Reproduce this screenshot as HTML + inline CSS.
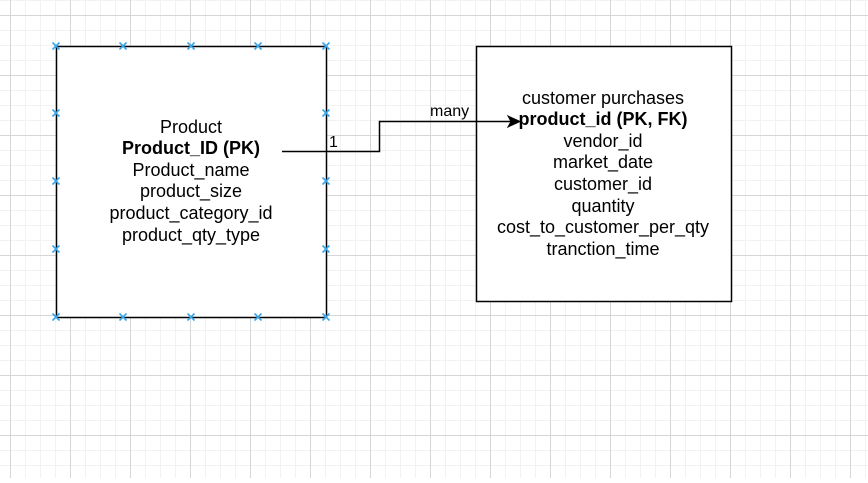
<!DOCTYPE html>
<html><head><meta charset="utf-8"><style>
html,body{margin:0;padding:0;background:#fff;}
svg text{font-family:"Liberation Sans",Arial,sans-serif;font-size:18px;fill:#000;}
</style></head><body>
<svg width="868" height="478" xmlns="http://www.w3.org/2000/svg">
<defs>
<pattern id="minor" x="10" y="0" width="15" height="15" patternUnits="userSpaceOnUse">
<path d="M0 0.5H15M0.5 0V15" stroke="#f2f2f2" stroke-width="1" fill="none"/>
</pattern>
<pattern id="major" x="10" y="15" width="60" height="60" patternUnits="userSpaceOnUse">
<path d="M0 0.5H60M0.5 0V60" stroke="#d6d6d6" stroke-width="1" fill="none"/>
</pattern>
</defs>
<rect width="868" height="478" fill="url(#minor)"/>
<rect width="868" height="478" fill="url(#major)"/>

<rect x="56.5" y="46.5" width="270" height="271" fill="#fff" stroke="#000" stroke-width="1.5"/>
<rect x="476.5" y="46.5" width="255" height="255" fill="#fff" stroke="#000" stroke-width="1.5"/>

<g text-anchor="middle" dominant-baseline="central">
<text x="191" y="127">Product</text>
<text x="191" y="148" font-weight="bold">Product_ID (PK)</text>
<text x="191" y="170">Product_name</text>
<text x="191" y="191">product_size</text>
<text x="191" y="213">product_category_id</text>
<text x="191" y="235">product_qty_type</text>

<text x="603" y="98">customer purchases</text>
<text x="603" y="119" font-weight="bold">product_id (PK, FK)</text>
<text x="603" y="141">vendor_id</text>
<text x="603" y="162">market_date</text>
<text x="603" y="184">customer_id</text>
<text x="603" y="206">quantity</text>
<text x="603" y="227">cost_to_customer_per_qty</text>
<text x="603" y="249">tranction_time</text>
</g>

<path d="M282 151.5H379.5V121.5H512" fill="none" stroke="#000" stroke-width="1.5"/>
<path d="M520 121.5L508 116L511 121.5L508 127Z" fill="#000" stroke="#000"/>
<text x="430" y="116" style="font-size:16px">many</text>
<text x="329" y="147" style="font-size:16px">1</text>

<g stroke="#3aa6e8" stroke-width="1.6">
<path d="M-3.5 -3.5L3.5 3.5M-3.5 3.5L3.5 -3.5" transform="translate(56,46)"/>
<path d="M-3.5 -3.5L3.5 3.5M-3.5 3.5L3.5 -3.5" transform="translate(123,46)"/>
<path d="M-3.5 -3.5L3.5 3.5M-3.5 3.5L3.5 -3.5" transform="translate(191,46)"/>
<path d="M-3.5 -3.5L3.5 3.5M-3.5 3.5L3.5 -3.5" transform="translate(258,46)"/>
<path d="M-3.5 -3.5L3.5 3.5M-3.5 3.5L3.5 -3.5" transform="translate(326,46)"/>
<path d="M-3.5 -3.5L3.5 3.5M-3.5 3.5L3.5 -3.5" transform="translate(56,317)"/>
<path d="M-3.5 -3.5L3.5 3.5M-3.5 3.5L3.5 -3.5" transform="translate(123,317)"/>
<path d="M-3.5 -3.5L3.5 3.5M-3.5 3.5L3.5 -3.5" transform="translate(191,317)"/>
<path d="M-3.5 -3.5L3.5 3.5M-3.5 3.5L3.5 -3.5" transform="translate(258,317)"/>
<path d="M-3.5 -3.5L3.5 3.5M-3.5 3.5L3.5 -3.5" transform="translate(326,317)"/>
<path d="M-3.5 -3.5L3.5 3.5M-3.5 3.5L3.5 -3.5" transform="translate(56,113)"/>
<path d="M-3.5 -3.5L3.5 3.5M-3.5 3.5L3.5 -3.5" transform="translate(56,181)"/>
<path d="M-3.5 -3.5L3.5 3.5M-3.5 3.5L3.5 -3.5" transform="translate(56,249)"/>
<path d="M-3.5 -3.5L3.5 3.5M-3.5 3.5L3.5 -3.5" transform="translate(326,113)"/>
<path d="M-3.5 -3.5L3.5 3.5M-3.5 3.5L3.5 -3.5" transform="translate(326,181)"/>
<path d="M-3.5 -3.5L3.5 3.5M-3.5 3.5L3.5 -3.5" transform="translate(326,249)"/>
</g>
</svg>
</body></html>
